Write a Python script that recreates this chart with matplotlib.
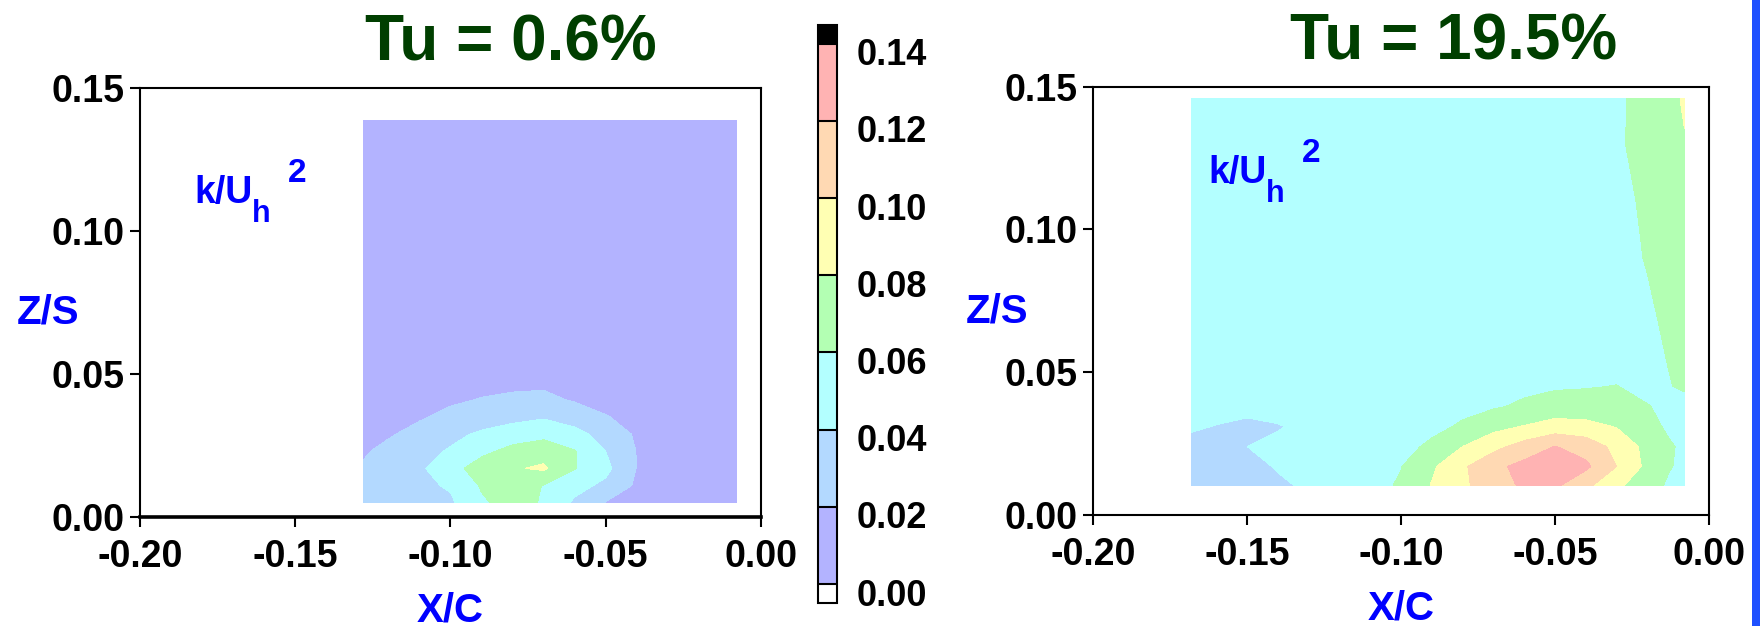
import matplotlib

matplotlib.use("Agg")
import matplotlib.pyplot as plt
import numpy as np
from matplotlib.colors import BoundaryNorm, ListedColormap
from matplotlib.patches import Rectangle
from matplotlib.transforms import ScaledTranslation, offset_copy

plt.rcParams["font.family"] = ["Liberation Sans", "DejaVu Sans"]
plt.rcParams["font.weight"] = "bold"

# contour levels and fill colours (k/Uh^2)
levels = [0.00, 0.02, 0.04, 0.06, 0.08, 0.10, 0.12, 0.14]
level_colors = ["#b3b3ff", "#b3d9ff", "#b3ffff", "#b3ffb3", "#ffffb3", "#ffd9b3", "#ffb3b3"]
cbar_labels = ["0.00", "0.02", "0.04", "0.06", "0.08", "0.10", "0.12", "0.14"]

x_ticks = [-0.20, -0.15, -0.10, -0.05, 0.00]
x_tick_labels = ["-0.20", "-0.15", "-0.10", "-0.05", "0.00"]
z_ticks = [0.00, 0.05, 0.10, 0.15]
z_tick_labels = ["0.00", "0.05", "0.10", "0.15"]

# Tu = 0.6 %  (grid)
low_x = [-0.128, -0.12, -0.11, -0.10, -0.09, -0.08, -0.07, -0.06, -0.05, -0.04, -0.03, -0.02, -0.008]
low_z = [0.005, 0.011, 0.017, 0.023, 0.029, 0.035, 0.041, 0.047, 0.06, 0.09, 0.1386]
low_k = [
    [0.030, 0.032, 0.035, 0.037, 0.057, 0.068, 0.058, 0.037, 0.019, 0.012, 0.010, 0.009, 0.008],
    [0.029, 0.032, 0.036, 0.042, 0.062, 0.075, 0.059, 0.046, 0.036, 0.017, 0.012, 0.010, 0.009],
    [0.022, 0.030, 0.037, 0.052, 0.070, 0.078, 0.083, 0.061, 0.045, 0.0195, 0.012, 0.010, 0.009],
    [0.018, 0.025, 0.033, 0.042, 0.055, 0.066, 0.072, 0.061, 0.040, 0.0195, 0.012, 0.010, 0.009],
    [0.014, 0.018, 0.026, 0.035, 0.043, 0.050, 0.054, 0.045, 0.034, 0.017, 0.012, 0.010, 0.009],
    [0.011, 0.014, 0.018, 0.025, 0.030, 0.034, 0.038, 0.033, 0.021, 0.014, 0.011, 0.010, 0.009],
    [0.010, 0.011, 0.014, 0.017, 0.021, 0.024, 0.025, 0.018, 0.014, 0.011, 0.010, 0.009, 0.009],
    [0.009, 0.010, 0.011, 0.013, 0.014, 0.015, 0.016, 0.013, 0.011, 0.010, 0.009, 0.009, 0.009],
    [0.009, 0.009, 0.010, 0.010, 0.011, 0.011, 0.011, 0.010, 0.010, 0.009, 0.009, 0.009, 0.009],
    [0.008, 0.008, 0.008, 0.008, 0.008, 0.008, 0.008, 0.008, 0.008, 0.008, 0.008, 0.008, 0.008],
    [0.008, 0.008, 0.008, 0.008, 0.008, 0.008, 0.008, 0.008, 0.008, 0.008, 0.008, 0.008, 0.008],
]

# Tu = 19.5 %
high_x = [-0.168, -0.16, -0.15, -0.14, -0.13, -0.12, -0.11, -0.10, -0.09, -0.08, -0.07, -0.06,
          -0.05, -0.04, -0.03, -0.02, -0.013, -0.008]
high_z = [0.0105, 0.017, 0.024, 0.031, 0.038, 0.045, 0.055, 0.07, 0.09, 0.11, 0.13, 0.1457]
high_k = [
    [0.035, 0.035, 0.036, 0.038, 0.042, 0.046, 0.054, 0.062, 0.081, 0.096, 0.112, 0.123, 0.124, 0.105, 0.085, 0.066, 0.058, 0.055],
    [0.032, 0.033, 0.036, 0.041, 0.046, 0.050, 0.055, 0.0595, 0.077, 0.097, 0.115, 0.126, 0.130, 0.124, 0.100, 0.075, 0.061, 0.057],
    [0.035, 0.037, 0.040, 0.043, 0.046, 0.049, 0.052, 0.055, 0.063, 0.080, 0.094, 0.108, 0.1205, 0.112, 0.094, 0.074, 0.062, 0.057],
    [0.042, 0.0395, 0.037, 0.039, 0.044, 0.048, 0.050, 0.052, 0.056, 0.062, 0.074, 0.081, 0.088, 0.086, 0.079, 0.066, 0.057, 0.055],
    [0.046, 0.045, 0.044, 0.046, 0.048, 0.050, 0.051, 0.052, 0.054, 0.056, 0.058, 0.063, 0.068, 0.068, 0.066, 0.061, 0.055, 0.052],
    [0.048, 0.048, 0.048, 0.048, 0.049, 0.050, 0.050, 0.051, 0.052, 0.053, 0.054, 0.056, 0.058, 0.059, 0.0605, 0.054, 0.059, 0.063],
    [0.048, 0.048, 0.048, 0.049, 0.049, 0.050, 0.050, 0.050, 0.050, 0.051, 0.051, 0.052, 0.052, 0.052, 0.052, 0.054, 0.061, 0.065],
    [0.048, 0.048, 0.048, 0.049, 0.049, 0.050, 0.050, 0.050, 0.050, 0.050, 0.050, 0.050, 0.050, 0.051, 0.052, 0.057, 0.064, 0.068],
    [0.048, 0.048, 0.048, 0.049, 0.049, 0.050, 0.050, 0.050, 0.050, 0.050, 0.050, 0.050, 0.050, 0.051, 0.053, 0.0612, 0.068, 0.070],
    [0.048, 0.048, 0.048, 0.049, 0.049, 0.050, 0.050, 0.050, 0.050, 0.050, 0.050, 0.050, 0.050, 0.052, 0.055, 0.063, 0.070, 0.074],
    [0.048, 0.048, 0.048, 0.049, 0.049, 0.050, 0.050, 0.050, 0.050, 0.050, 0.050, 0.050, 0.051, 0.053, 0.058, 0.065, 0.072, 0.079],
    [0.048, 0.048, 0.048, 0.049, 0.049, 0.050, 0.050, 0.050, 0.050, 0.050, 0.050, 0.050, 0.051, 0.053, 0.058, 0.064, 0.075, 0.082],
]

BLUE = "#0000ff"
GREEN = "#003f00"


def _k_label(fig, ax, x, y):
    base = ax.transAxes
    style = dict(color=BLUE, fontweight="bold", va="baseline")
    ax.text(x, y, "k/U", transform=base, fontsize=27, **style)
    ax.text(x, y, "h", transform=offset_copy(base, fig=fig, x=58, y=-19, units="dots"), fontsize=22, **style)
    ax.text(x, y, "2", transform=offset_copy(base, fig=fig, x=94, y=21, units="dots"), fontsize=24, **style)


def _panel(fig, rect, xs, zs, ks, title, title_x, zlab_x, klab_xy, cmap, norm, thick_bottom=False):
    ax = fig.add_axes(rect)
    cs = ax.contourf(np.array(xs), np.array(zs), np.array(ks), levels=levels, cmap=cmap, norm=norm,
                     extend="both")
    ax.set_xlim(-0.20, 0.0)
    ax.set_ylim(0.0, 0.15)
    ax.set_xticks(x_ticks, x_tick_labels)
    ax.set_yticks(z_ticks, z_tick_labels)
    for spine in ax.spines.values():
        spine.set_linewidth(1.5)
    if thick_bottom:
        ax.spines["bottom"].set_linewidth(2.6)
    ax.tick_params(axis="both", direction="out", length=7, width=1.5, labelsize=27)
    ax.tick_params(axis="x", pad=9)
    ax.tick_params(axis="y", pad=4)
    ax.text(title_x, 1.063, title, transform=ax.transAxes, ha="center", va="baseline",
            fontsize=46, color=GREEN, fontweight="bold")
    ax.text(zlab_x, 0.45, "Z/S", transform=ax.transAxes, ha="center", va="baseline",
            fontsize=29, color=BLUE, fontweight="bold")
    ax.text(0.50, -0.243, "X/C", transform=ax.transAxes, ha="center", va="baseline",
            fontsize=29, color=BLUE, fontweight="bold")
    _k_label(fig, ax, *klab_xy)
    return cs


def main() -> None:
    fig = plt.figure(figsize=(17.63, 6.26), dpi=100)
    cmap = ListedColormap(level_colors)
    cmap.set_under("white")
    cmap.set_over("black")
    norm = BoundaryNorm(levels, cmap.N)

    cs = _panel(fig, [0.0794, 0.1741, 0.3522, 0.6853], low_x, low_z, low_k, "Tu = 0.6%",
                0.597, -0.148, (0.087, 0.732), cmap, norm, thick_bottom=True)
    _panel(fig, [0.6200, 0.1773, 0.3494, 0.6843], high_x, high_z, high_k, "Tu = 19.5%",
           0.586, -0.156, (0.187, 0.775), cmap, norm)

    cax = fig.add_axes([0.4640, 0.0367, 0.0108, 0.9238])
    cbar = fig.colorbar(cs, cax=cax, extend="both", extendrect=True, extendfrac=0.035,
                        drawedges=True, ticks=levels)
    cbar.set_ticklabels(cbar_labels)
    cbar.outline.set_linewidth(1.5)
    cbar.dividers.set_color("black")
    cbar.dividers.set_linewidth(1.5)
    cbar.ax.tick_params(length=0, pad=14, labelsize=26)
    shift = ScaledTranslation(0, -8 / 100, fig.dpi_scale_trans)
    for lab in cbar.ax.get_yticklabels():
        lab.set_transform(lab.get_transform() + shift)

    # blue frame edge on the right of the slide
    fig.patches.append(Rectangle((1752 / 1763, 0), 8 / 1763, 1, transform=fig.transFigure,
                                 facecolor="#1e50ff", edgecolor="none"))

    fig.savefig("out.png", dpi=100)
    plt.close(fig)


if __name__ == "__main__":
    main()
